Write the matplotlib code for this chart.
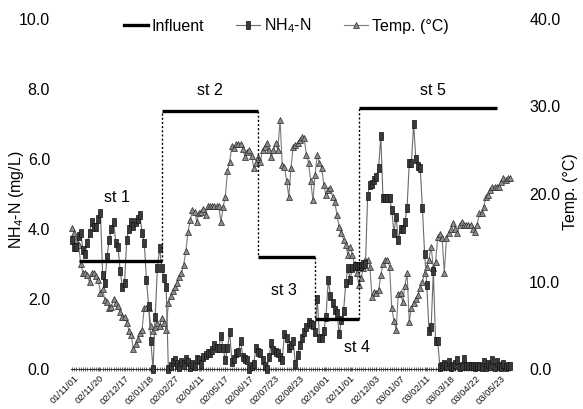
import numpy as np
import matplotlib
matplotlib.use("Agg")
import matplotlib.pyplot as plt
from matplotlib.lines import Line2D

# tick labels along the (categorical) sampling axis
date_labels = [
    "01/11/01", "02/11/20", "02/12/17", "02/01/18", "02/02/27", "02/04/11",
    "02/05/17", "02/06/17", "02/07/23", "02/08/23", "02/10/01", "02/11/01",
    "02/12/03", "03/01/07", "03/02/11", "03/03/18", "03/04/22", "03/05/23",
]

# effluent NH4-N (mg/L), one value per sample
nh4 = [
    3.7, 3.5, 3.5, 3.8, 3.9, 3.4, 3.3, 3.6, 3.9, 4.2,
    4.05, 4.05, 4.3, 4.45, 2.7, 2.45, 3.2, 3.7, 4.0, 4.2,
    3.6, 3.5, 2.8, 2.35, 2.45, 3.7, 4.0, 4.2, 4.1, 4.2,
    4.3, 4.4, 3.9, 3.6, 2.55, 1.8, 0.8, 0.0, 1.5, 2.9,
    3.45, 2.9, 2.6, 2.35, 0.0, 0.1, 0.2, 0.25, 0.15, 0.05,
    0.2, 0.15, 0.3, 0.2, 0.05, 0.15, 0.1, 0.3, 0.25, 0.15,
    0.35, 0.4, 0.45, 0.45, 0.55, 0.7, 0.6, 0.6, 0.95, 0.6,
    0.25, 0.6, 1.05, 0.2, 0.3, 0.45, 0.5, 0.8, 0.35, 0.3,
    0.25, 0.0, 0.1, 0.15, 0.6, 0.5, 0.45, 0.25, 0.1, 0.0,
    0.35, 0.75, 0.55, 0.5, 0.45, 0.35, 0.25, 1.0, 0.9, 0.6,
    0.7, 0.8, 0.15, 0.4, 0.7, 0.9, 1.05, 1.2, 1.35, 1.3,
    1.25, 1.05, 2.0, 0.9, 0.9, 1.1, 1.5, 2.55, 2.1, 1.9,
    1.7, 1.6, 1.0, 1.4, 1.65, 2.45, 2.9, 2.55, 2.9, 2.95,
    2.95, 2.95, 2.95, 3.0, 3.0, 4.95, 5.25, 5.3, 5.4, 5.5,
    5.75, 6.65, 4.9, 4.9, 4.9, 4.9, 4.55, 3.9, 4.35, 3.7,
    4.0, 4.0, 4.2, 4.6, 5.9, 5.9, 7.0, 6.0, 5.8, 5.75,
    4.6, 3.3, 2.4, 1.1, 1.2, 2.8, 0.8, 0.8, 0.05, 0.1,
    0.15, 0.1, 0.2, 0.05, 0.1, 0.15, 0.25, 0.05, 0.1, 0.3,
    0.1, 0.1, 0.1, 0.1, 0.05, 0.1, 0.1, 0.05, 0.2, 0.05,
    0.15, 0.1, 0.25, 0.05, 0.2, 0.1, 0.05, 0.15, 0.05, 0.1,
    0.1,
]

# water temperature (deg C)
temp = [
    16.1, 15.6, 14.8, 14.2, 12.0, 11.0, 11.0, 10.8, 9.9, 11.0,
    11.0, 10.6, 10.2, 8.7, 9.1, 7.9, 7.7, 7.0, 7.1, 8.0,
    7.6, 7.2, 6.5, 5.9, 6.0, 5.3, 4.4, 3.9, 2.3, 2.9,
    3.4, 4.1, 4.5, 7.0, 7.0, 7.0, 4.9, 4.3, 4.8, 5.3,
    4.9, 5.8, 5.3, 4.5, 7.5, 8.3, 8.9, 9.4, 9.8, 10.5,
    11.0, 11.9, 13.5, 15.7, 17.0, 18.2, 18.0, 16.8, 17.8, 18.0,
    18.3, 17.6, 18.6, 18.6, 18.6, 18.6, 18.6, 18.6, 16.8, 18.5,
    19.7, 22.6, 23.7, 25.5, 25.3, 25.7, 25.7, 25.7, 25.2, 24.2,
    24.8, 25.0, 24.4, 23.0, 23.6, 24.2, 23.7, 25.0, 25.4, 25.8,
    25.0, 24.2, 25.0, 25.8, 25.0, 28.5, 23.3, 23.1, 21.5, 19.7,
    23.0, 25.4, 25.6, 25.8, 26.2, 26.5, 26.4, 24.5, 23.6, 21.5,
    19.3, 22.2, 24.5, 23.5, 23.0, 21.0, 19.9, 20.5, 20.7, 19.7,
    19.1, 17.6, 16.2, 15.5, 14.8, 14.2, 13.0, 14.0, 13.0, 12.0,
    11.0, 9.6, 10.4, 11.5, 12.5, 12.5, 11.7, 8.2, 8.8, 8.7,
    9.0, 10.7, 12.0, 12.5, 12.5, 11.7, 7.0, 5.5, 4.5, 8.6,
    8.7, 7.7, 9.5, 11.0, 5.4, 7.0, 7.6, 8.0, 8.5, 9.3,
    10.0, 11.0, 11.7, 12.5, 14.0, 11.5, 12.2, 15.1, 15.4, 15.0,
    11.0, 15.0, 15.5, 16.0, 16.7, 16.0, 15.5, 16.5, 16.8, 16.5,
    16.5, 16.5, 16.5, 16.0, 15.7, 16.5, 17.8, 17.8, 18.5, 19.7,
    19.9, 20.5, 20.8, 20.8, 20.8, 20.8, 21.4, 21.8, 21.6, 21.8,
    21.8,
]

# influent NH4-N per stage, with the sample index where each stage starts/ends
stage_names = ["st 1", "st 2", "st 3", "st 4", "st 5"]
stage_bounds = [3, 41, 85, 111, 131, 194]
influent = [3.1, 7.37, 3.2, 1.43, 7.46]

FONT = ["Liberation Sans", "DejaVu Sans"]
plt.rcParams["font.family"] = FONT
plt.rcParams["mathtext.default"] = "regular"

FS = 11.5
SQUARE = [(-0.32, -0.5), (0.32, -0.5), (0.32, 0.5), (-0.32, 0.5), (-0.32, -0.5)]


def draw_influent(ax):
    for i, level in enumerate(influent):
        ax.hlines(level, stage_bounds[i], stage_bounds[i + 1], color="black",
                  lw=2.4, zorder=4)
    for i in range(1, len(influent)):
        ax.vlines(stage_bounds[i], influent[i - 1], influent[i], color="black",
                  lw=1.0, linestyles=(0, (1.5, 1.5)), zorder=4)


def stage_text(ax):
    # stage names sit just above / below their influent segments
    pos = [(20.5, 4.9), (63, 7.95), (97, 2.25), (130, 0.62), (165, 7.95)]
    for name, (x, y) in zip(stage_names, pos):
        ax.text(x, y, name, ha="center", va="center", fontsize=FS)


def main():
    x = np.arange(len(nh4))

    fig = plt.figure(figsize=(5.83, 4.09), dpi=100)
    ax = fig.add_axes([70.9 / 583, 1 - 369 / 409, 440.2 / 583, 350 / 409])
    ax2 = ax.twinx()

    ax.plot(x, nh4, color="#6a6a6a", lw=0.8, marker=SQUARE, ms=5.2,
            mfc="#3a3a3a", mec="#111111", mew=0.5, clip_on=False, zorder=3)
    ax2.plot(x, temp, color="#7a7a7a", lw=0.8, marker="^", ms=4.6,
             mfc="#8c8c8c", mec="#2a2a2a", mew=0.5, clip_on=False, zorder=2)
    draw_influent(ax)
    stage_text(ax)

    ax.set_xlim(-0.5, len(nh4) - 0.5)
    ax.set_ylim(0, 10)
    ax2.set_ylim(0, 40)
    ax.set_zorder(ax2.get_zorder() + 1)
    ax.patch.set_visible(False)

    ax.set_yticks(np.arange(0, 10.1, 2))
    ax.set_yticklabels([f"{v:.1f}" for v in np.arange(0, 10.1, 2)])
    ax2.set_yticks(np.arange(0, 40.1, 10))
    ax2.set_yticklabels([f"{v:.1f}" for v in np.arange(0, 40.1, 10)])
    ax.tick_params(axis="y", length=0, pad=15, labelsize=FS)
    ax2.tick_params(axis="y", length=0, pad=13, labelsize=FS)

    tick_pos = np.linspace(1, 196, len(date_labels))
    ax.set_xticks(tick_pos)
    ax.set_xticklabels(date_labels, rotation=45, ha="right",
                       rotation_mode="anchor", fontsize=6.8, color="#111111")
    ax.set_xticks(x, minor=True)
    ax.tick_params(axis="x", which="both", direction="inout", length=3,
                   width=0.5, pad=2, color="#333333")

    for a in (ax, ax2):
        for side in ("top", "left", "right"):
            a.spines[side].set_visible(False)
    ax2.spines["bottom"].set_visible(False)
    ax.spines["bottom"].set_linewidth(0.8)
    ax.spines["bottom"].set_color("#333333")

    fig.text(17 / 583, 1 - 200 / 409, "NH$_4$-N (mg/L)", rotation=90,
             ha="center", va="center", fontsize=FS)
    fig.text(571 / 583, 1 - 192 / 409, "Temp. (°C)", rotation=90,
             ha="center", va="center", fontsize=FS)

    handles = [
        Line2D([], [], color="black", lw=2.4),
        Line2D([], [], color="#6a6a6a", lw=0.8, marker=SQUARE, ms=5.2,
               mfc="#3a3a3a", mec="#111111", mew=0.5),
        Line2D([], [], color="#7a7a7a", lw=0.8, marker="^", ms=4.6,
               mfc="#8c8c8c", mec="#2a2a2a", mew=0.5),
    ]
    fig.legend(handles, ["Influent", "NH$_4$-N", "Temp. (°C)"], ncol=3,
               loc="center", bbox_to_anchor=(286 / 583, 1 - 26 / 409),
               frameon=False, fontsize=FS, handlelength=1.5,
               handletextpad=0.25, columnspacing=2.0)

    fig.savefig("out.png", dpi=100)
    plt.close(fig)


if __name__ == "__main__":
    main()
